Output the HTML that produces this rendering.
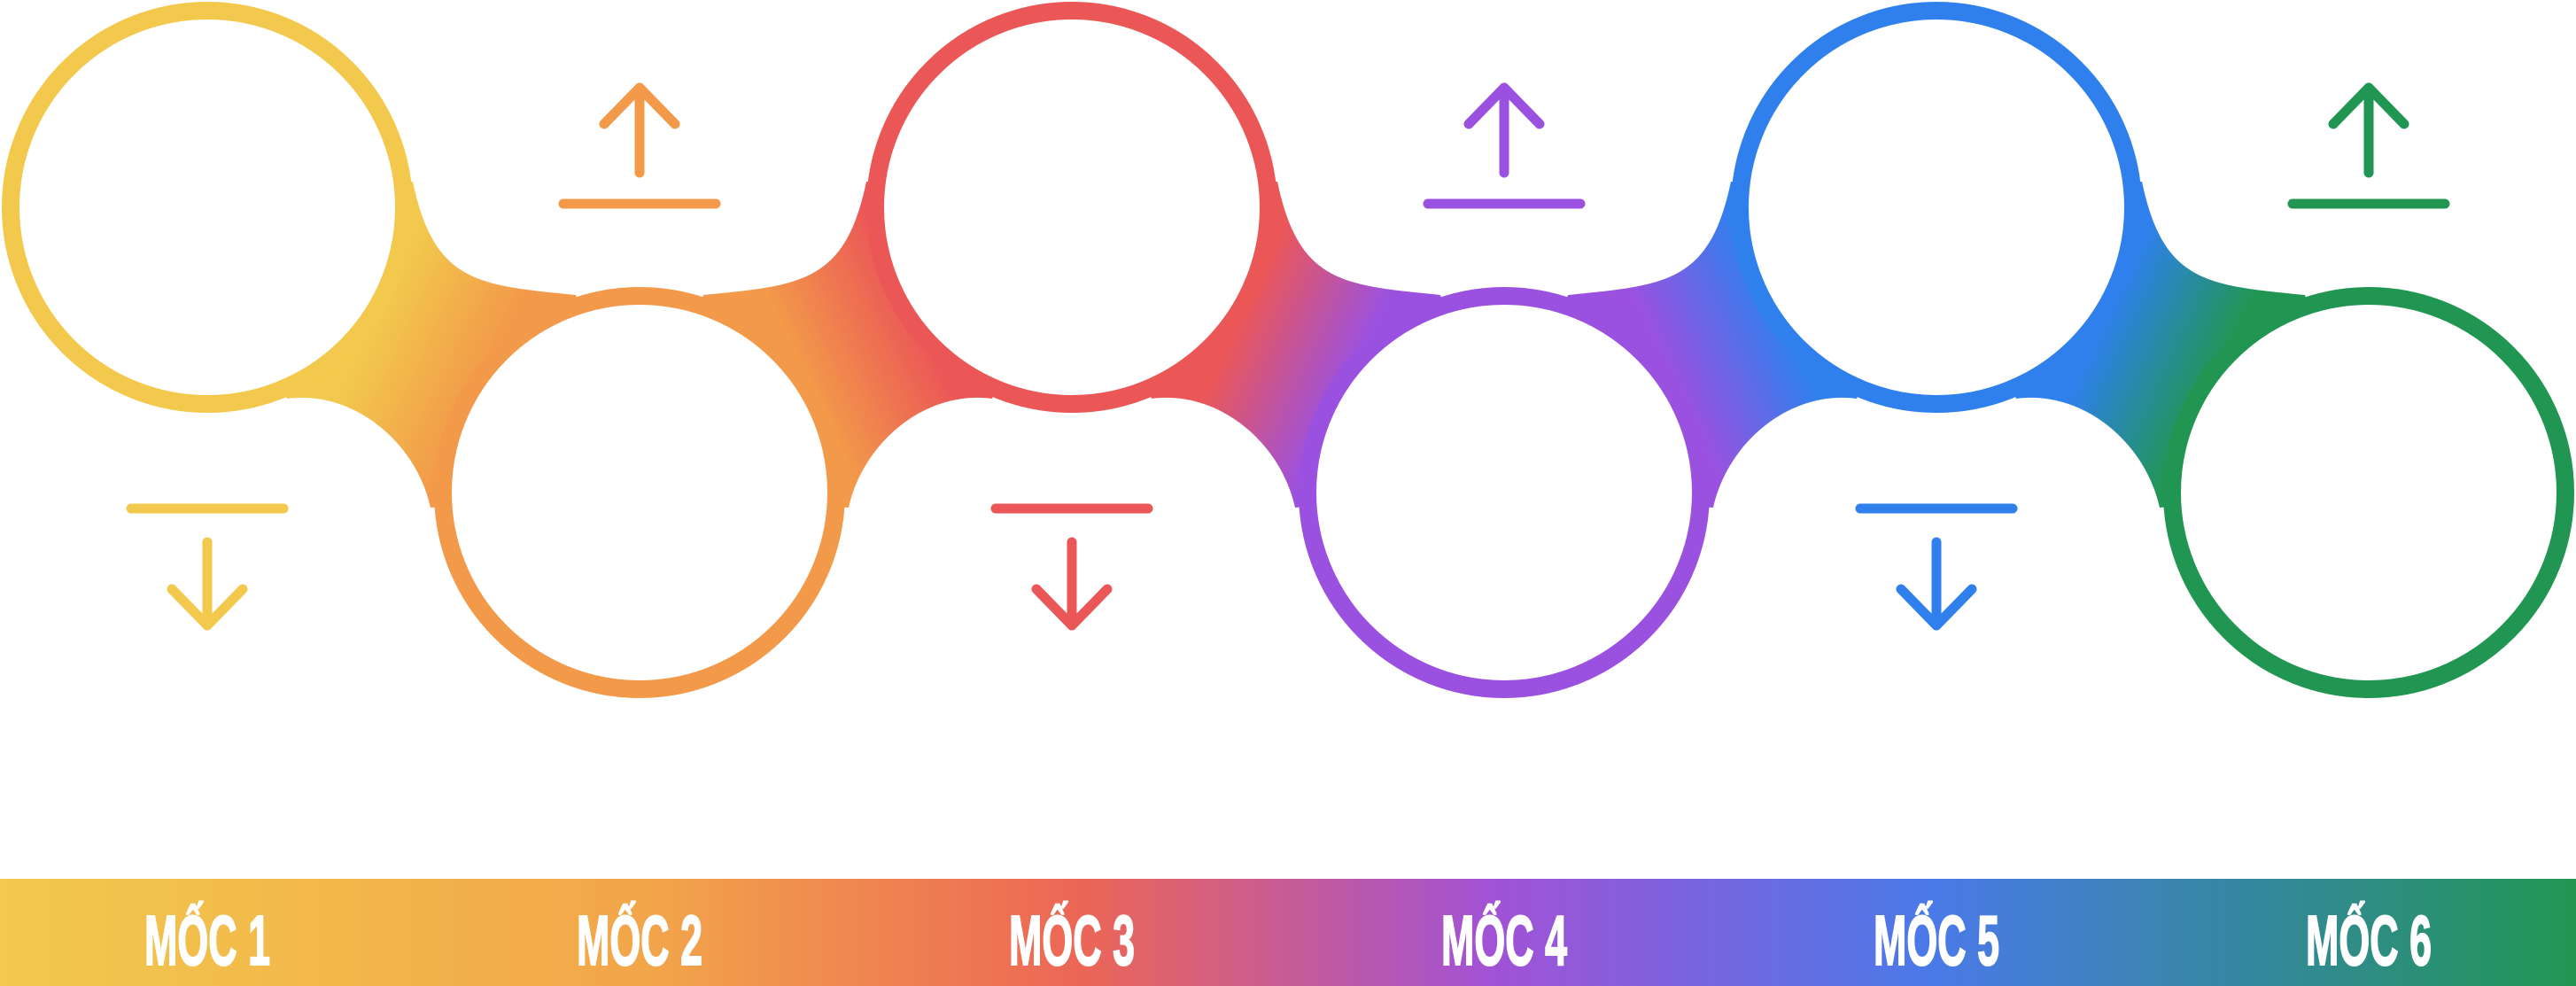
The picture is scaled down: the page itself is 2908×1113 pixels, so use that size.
<!DOCTYPE html>
<html><head><meta charset="utf-8">
<style>
html,body{margin:0;padding:0;background:#fff;}
svg{display:block;}
</style></head>
<body>
<svg id="chart" width="2908" height="1113" viewBox="0 0 2908 1113" xmlns="http://www.w3.org/2000/svg">
<defs id="defs">
<linearGradient id="gBar" gradientUnits="userSpaceOnUse" x1="0" y1="0" x2="2908" y2="0">
<stop offset="0" stop-color="#F2C94C"/><stop offset="0.25" stop-color="#F2A64A"/><stop offset="0.42" stop-color="#EC6656"/><stop offset="0.58" stop-color="#A152D6"/><stop offset="0.75" stop-color="#4A7AE8"/><stop offset="1" stop-color="#219653"/>
</linearGradient>
</defs>
<g id="connectors"></g>
<g id="circles"></g>
<g id="arrows"></g>
<rect x="0" y="992" width="2908" height="121" fill="url(#gBar)"/>
<g id="labels"></g>
</svg>
<script>
const labels = ["MỐC 1","MỐC 2","MỐC 3","MỐC 4","MỐC 5","MỐC 6"];
const colors = ["#F2C94C","#F2994A","#EB5757","#9B51E0","#2F80ED","#219653"];
const positions = ["top","bottom","top","bottom","top","bottom"];

const NS = "http://www.w3.org/2000/svg";
const defs = document.getElementById('defs');
const x0 = 234, step = 488, yTop = 234, yBot = 556;
function cx(i){ return x0 + i*step; }
function cy(i){ return positions[i]==="top" ? yTop : yBot; }
function mk(tag, attrs, parent){ const e=document.createElementNS(NS,tag); for(const k in attrs) e.setAttribute(k,attrs[k]); parent.appendChild(e); return e; }

const gC = document.getElementById('connectors');
for(let i=0;i<labels.length-1;i++){
  const a = cx(i), b = cx(i+1);
  const down = positions[i]==="top";
  const grad = mk('linearGradient',{id:'gc'+i,gradientUnits:'userSpaceOnUse',x1:a+190,y1:down?360:430,x2:b-170,y2:down?420:370},defs);
  mk('stop',{offset:0,'stop-color':colors[i]},grad);
  mk('stop',{offset:1,'stop-color':colors[i+1]},grad);
  const pts = [[466,205],[490,320],[540,322],[650,333],[721,556],[486,573],[470,500],[400,440],[324,450],[234,234]];
  const tr = pts.map(([x,y])=>{
    let rx = x-234;
    if(down) return [a+rx, y];
    return [b - rx, y];
  });
  const d = `M${tr[0]} C${tr[1]} ${tr[2]} ${tr[3]} L${tr[4]} L${tr[5]} C${tr[6]} ${tr[7]} ${tr[8]} L${tr[9]} Z`;
  const p = mk('path',{d:d,fill:'url(#gc'+i+')'},gC);
  
  
}

const gCi = document.getElementById('circles');
const gA = document.getElementById('arrows');
const gL = document.getElementById('labels');
labels.forEach((lab,i)=>{
  const c = mk('circle',{cx:cx(i),cy:cy(i),r:222,fill:'#fff',stroke:colors[i],'stroke-width':20},gCi);
  
  
  const g = mk('g',{stroke:colors[i],'stroke-width':11,'stroke-linecap':'round','stroke-linejoin':'round',fill:'none'},gA);
  
  
  const x = cx(i);
  if(positions[i]==="bottom"){
    mk('line',{x1:x-86,y1:230,x2:x+86,y2:230},g);
    mk('line',{x1:x,y1:195,x2:x,y2:99},g);
    mk('polyline',{points:`${x-40},140 ${x},99 ${x+40},140`},g);
  } else {
    mk('line',{x1:x-86,y1:574,x2:x+86,y2:574},g);
    mk('line',{x1:x,y1:612,x2:x,y2:706},g);
    mk('polyline',{points:`${x-40},665 ${x},706 ${x+40},665`},g);
  }
  const t = mk('text',{x:x,y:1089,'text-anchor':'middle',fill:'#fff',stroke:'#fff','stroke-width':2,'font-family':'"Liberation Sans", sans-serif','font-weight':'bold','font-size':80,textLength:142,lengthAdjust:'spacingAndGlyphs'},gL);
  t.textContent = lab;
  
  
});
</script>
</body></html>
